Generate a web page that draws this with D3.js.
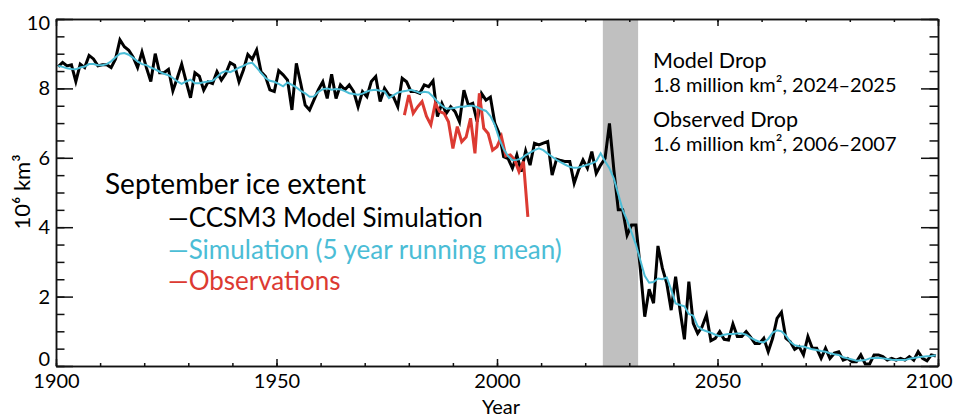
<!DOCTYPE html>
<html>
<head>
<meta charset="utf-8">
<script src="https://cdn.jsdelivr.net/npm/d3@7"></script>
<style>
body { margin: 0; background: #fff; }
svg text { font-family: Lato, "Open Sans", sans-serif; fill: #000; }
.axis path, .axis line { stroke: #111; stroke-width: 1.5; }
.axis text { font-size: 20px; }
</style>
</head>
<body>
<svg id="chart" width="956" height="416"></svg>
<script>
// CCSM3 September ice extent, one value per year from 1900 to 2099
var modelStart = 1900;
var modelExtent = [
  8.63, 8.75, 8.65, 8.68, 8.20, 8.70, 8.60, 8.95, 8.85, 8.65,
  8.68, 8.68, 8.60, 8.85, 9.40, 9.20, 9.10, 8.90, 8.60, 9.05,
  8.60, 8.20, 9.00, 8.45, 8.45, 8.55, 7.93, 8.30, 8.70, 8.20,
  7.73, 8.45, 8.35, 7.95, 8.19, 8.14, 8.48, 8.24, 8.43, 8.74,
  8.67, 8.19, 8.53, 8.98, 8.84, 9.11, 8.48, 8.34, 7.96, 7.91,
  8.51, 8.39, 8.24, 7.38, 8.72, 8.14, 7.52, 7.38, 7.67, 7.96,
  8.19, 7.71, 8.41, 7.71, 8.10, 7.96, 8.10, 7.91, 7.47, 7.91,
  7.76, 8.20, 8.34, 7.62, 8.00, 7.81, 7.76, 7.47, 8.29, 8.19,
  7.91, 7.91, 7.86, 8.10, 8.05, 8.22, 7.19, 7.57, 7.28, 7.47,
  7.33, 7.04, 7.95, 7.52, 7.57, 7.04, 7.85, 7.66, 7.75, 7.00,
  6.70, 6.03, 5.98, 5.70, 6.08, 5.60, 6.20, 5.79, 6.42, 6.37,
  6.42, 6.47, 5.50, 5.96, 5.92, 5.89, 5.89, 5.27, 5.65, 5.94,
  5.70, 6.18, 5.55, 5.79, 5.98, 6.99, 5.65, 4.50, 4.50, 3.77,
  4.06, 4.06, 2.80, 1.42, 2.21, 1.81, 3.46, 2.82, 2.38, 1.61,
  2.57, 1.61, 0.77, 2.43, 1.23, 0.94, 1.13, 1.47, 0.73, 0.80,
  0.99, 0.77, 0.75, 1.21, 0.85, 0.85, 0.99, 0.83, 0.65, 0.65,
  0.80, 0.41, 0.80, 1.37, 1.55, 0.80, 0.70, 0.48, 0.56, 0.32,
  0.85, 0.51, 0.51, 0.22, 0.51, 0.22, 0.37, 0.41, 0.17, 0.22,
  0.12, 0.12, 0.32, 0.06, 0.06, 0.32, 0.32, 0.27, 0.17, 0.22,
  0.17, 0.22, 0.17, 0.27, 0.17, 0.41, 0.22, 0.15, 0.32, 0.29
];

// 5 year running mean
var meanExtent = [
  8.65, 8.62, 8.58, 8.56, 8.55, 8.60, 8.63, 8.70, 8.70, 8.67,
  8.67, 8.70, 8.78, 8.90, 9.00, 9.02, 8.97, 8.88, 8.78, 8.70,
  8.67, 8.60, 8.55, 8.48, 8.42, 8.38, 8.30, 8.20, 8.13, 8.20,
  8.25, 8.15, 8.15, 8.18, 8.20, 8.22, 8.32, 8.45, 8.50, 8.47,
  8.53, 8.60, 8.65, 8.72, 8.74, 8.60, 8.45, 8.30, 8.22, 8.19,
  8.13, 8.06, 8.17, 8.10, 8.03, 7.93, 7.86, 7.76, 7.77, 7.90,
  7.98, 8.00, 7.96, 7.98, 7.97, 7.92, 7.86, 7.84, 7.82, 7.85,
  7.91, 7.95, 7.96, 7.93, 7.91, 7.72, 7.80, 7.88, 7.91, 7.93,
  7.96, 7.92, 7.87, 7.90, 7.88, 7.76, 7.62, 7.50, 7.42, 7.42,
  7.44, 7.47, 7.47, 7.50, 7.50, 7.46, 7.40, 7.35, 7.20, 6.95,
  6.55, 6.25, 6.05, 5.93, 5.94, 5.98, 6.08, 6.15, 6.22, 6.27,
  6.22, 6.12, 6.03, 5.94, 5.87, 5.80, 5.74, 5.71, 5.72, 5.76,
  5.80, 5.84, 5.90, 6.13, 5.90, 5.70, 5.40, 4.95, 4.50, 4.20,
  3.85, 3.50, 3.05, 2.60, 2.40, 2.42, 2.52, 2.50, 2.55, 2.20,
  1.80, 1.76, 1.72, 1.50, 1.45, 1.15, 1.05, 1.00, 0.96, 0.90,
  0.86, 0.90, 0.92, 0.92, 0.94, 0.94, 0.90, 0.82, 0.75, 0.70,
  0.68, 0.78, 0.96, 1.03, 1.00, 0.88, 0.70, 0.60, 0.57, 0.56,
  0.52, 0.48, 0.46, 0.43, 0.41, 0.37, 0.34, 0.32, 0.25, 0.22,
  0.19, 0.15, 0.16, 0.17, 0.22, 0.23, 0.24, 0.22, 0.20, 0.18,
  0.17, 0.17, 0.17, 0.21, 0.23, 0.25, 0.27, 0.28, 0.29, 0.31
];

// observations 1979-2007
var obsStart = 1979;
var obsExtent = [
  7.23, 7.81, 7.28, 7.47, 7.62, 7.20, 6.95, 7.57, 7.33, 7.28,
  7.04, 6.27, 6.90, 6.46, 6.60, 7.14, 6.13, 7.86, 6.85, 6.70,
  6.22, 6.32, 6.61, 6.05, 6.08, 5.94, 5.60, 5.89, 4.30
];

var xMajorTicks = [1900, 1950, 2000, 2050, 2100];
var yMajorTicks = [0, 2, 4, 6, 8, 10];
var dropYears = [2024, 2032];

var legendItems = [
  {label: "\u2014CCSM3 Model Simulation", color: "#000000"},
  {label: "\u2014Simulation (5 year running mean)", color: "#4bbdd6"},
  {label: "\u2014Observations", color: "#dc3a32"}
];

var margin = {left: 56, top: 19, right: 18, bottom: 50};
var width = 956 - margin.left - margin.right;
var height = 416 - margin.top - margin.bottom;

var model = modelExtent.map(function(v, i) { return {year: modelStart + i, v: v}; });
var mean = meanExtent.map(function(v, i) { return {year: modelStart + i, v: v}; });
var obs = obsExtent.map(function(v, i) { return {year: obsStart + i, v: v}; });

var svg = d3.select("#chart");
var g = svg.append("g")
    .attr("transform", "translate(" + margin.left + "," + margin.top + ")");

var x = d3.scaleLinear().domain([1900, 2100]).range([0, width]);
var y = d3.scaleLinear().domain([0, 10]).range([height, 0]);

// grey band around the model drop
g.append("rect")
    .attr("x", x(dropYears[0]))
    .attr("y", 0)
    .attr("width", x(dropYears[1]) - x(dropYears[0]))
    .attr("height", height)
    .attr("fill", "#c0c0c0");

// model values sit in the middle of their year
var lineMid = d3.line()
    .x(function(d) { return x(d.year + 0.5); })
    .y(function(d) { return y(d.v); });
var lineObs = d3.line()
    .x(function(d) { return x(d.year); })
    .y(function(d) { return y(d.v); });

g.append("path").datum(model)
    .attr("d", lineMid).attr("fill", "none")
    .attr("stroke", "#000").attr("stroke-width", 3);
g.append("path").datum(obs)
    .attr("d", lineObs).attr("fill", "none")
    .attr("stroke", legendItems[2].color).attr("stroke-width", 3);
g.append("path").datum(mean)
    .attr("d", lineMid).attr("fill", "none")
    .attr("stroke", legendItems[1].color).attr("stroke-width", 2);

// axes, ticks point inward on all four sides
var xMinor = d3.range(1900, 2101, 10);
var yMinor = d3.range(0, 10.01, 0.5);

g.append("g").attr("class", "axis")
    .attr("transform", "translate(0," + height + ")")
    .call(d3.axisBottom(x).tickValues(xMinor).tickSize(-3).tickSizeOuter(0).tickFormat(""));
var xAxisG = g.append("g").attr("class", "axis")
    .attr("transform", "translate(0," + height + ")")
    .call(d3.axisBottom(x).tickValues(xMajorTicks).tickSize(-7).tickSizeOuter(0)
        .tickPadding(8).tickFormat(d3.format("d")));
g.append("g").attr("class", "axis")
    .call(d3.axisTop(x).tickValues(xMinor).tickSize(-3).tickSizeOuter(0).tickFormat(""));
g.append("g").attr("class", "axis")
    .call(d3.axisTop(x).tickValues(xMajorTicks).tickSize(-7).tickSizeOuter(0).tickFormat(""));

g.append("g").attr("class", "axis")
    .call(d3.axisLeft(y).tickValues(yMinor).tickSize(-8.5).tickSizeOuter(0).tickFormat(""));
var yAxisG = g.append("g").attr("class", "axis")
    .call(d3.axisLeft(y).tickValues(yMajorTicks).tickSize(-17).tickSizeOuter(0)
        .tickPadding(6).tickFormat(d3.format("d")));
g.append("g").attr("class", "axis")
    .attr("transform", "translate(" + width + ",0)")
    .call(d3.axisRight(y).tickValues(yMinor).tickSize(-8.5).tickSizeOuter(0).tickFormat(""));
g.append("g").attr("class", "axis")
    .attr("transform", "translate(" + width + ",0)")
    .call(d3.axisRight(y).tickValues(yMajorTicks).tickSize(-17).tickSizeOuter(0).tickFormat(""));

g.selectAll(".axis text").attr("fill", "#000").style("font-size", "20px");

// end labels are nudged inside the picture, as in the original
xAxisG.selectAll(".tick text")
    .filter(function(d) { return d === 2100; })
    .attr("text-anchor", "end").attr("x", 14);
yAxisG.selectAll(".tick text")
    .filter(function(d) { return d === 0; })
    .attr("dy", "-0.02em");
yAxisG.selectAll(".tick text")
    .filter(function(d) { return d === 10; })
    .attr("dy", "0.5em");

// axis titles
svg.append("text")
    .attr("transform", "translate(30,192) rotate(-90)")
    .attr("text-anchor", "middle")
    .style("font-size", "22px")
    .text("10\u2076 km\u00b3");
svg.append("text")
    .attr("x", 501).attr("y", 414)
    .attr("text-anchor", "middle")
    .style("font-size", "20px")
    .text("Year");

// legend
svg.append("text")
    .attr("x", 105).attr("y", 194)
    .style("font-size", "28px")
    .text("September ice extent");
svg.selectAll(".legend-item")
    .data(legendItems)
    .enter().append("text")
    .attr("class", "legend-item")
    .attr("x", 168)
    .attr("y", function(d, i) { return 227 + i * 31.5; })
    .style("font-size", "26px")
    .style("fill", function(d) { return d.color; })
    .text(function(d) { return d.label; });

// annotations
var notes = [
  {text: "Model Drop", y: 68, size: 21.5},
  {text: "1.8 million km\u00b2, 2024\u20132025", y: 92, size: 20},
  {text: "Observed Drop", y: 127, size: 21.5},
  {text: "1.6 million km\u00b2, 2006\u20132007", y: 151, size: 20}
];
svg.selectAll(".note")
    .data(notes)
    .enter().append("text")
    .attr("class", "note")
    .attr("x", 653)
    .attr("y", function(d) { return d.y; })
    .style("font-size", function(d) { return d.size + "px"; })
    .text(function(d) { return d.text; });
</script>
</body>
</html>
